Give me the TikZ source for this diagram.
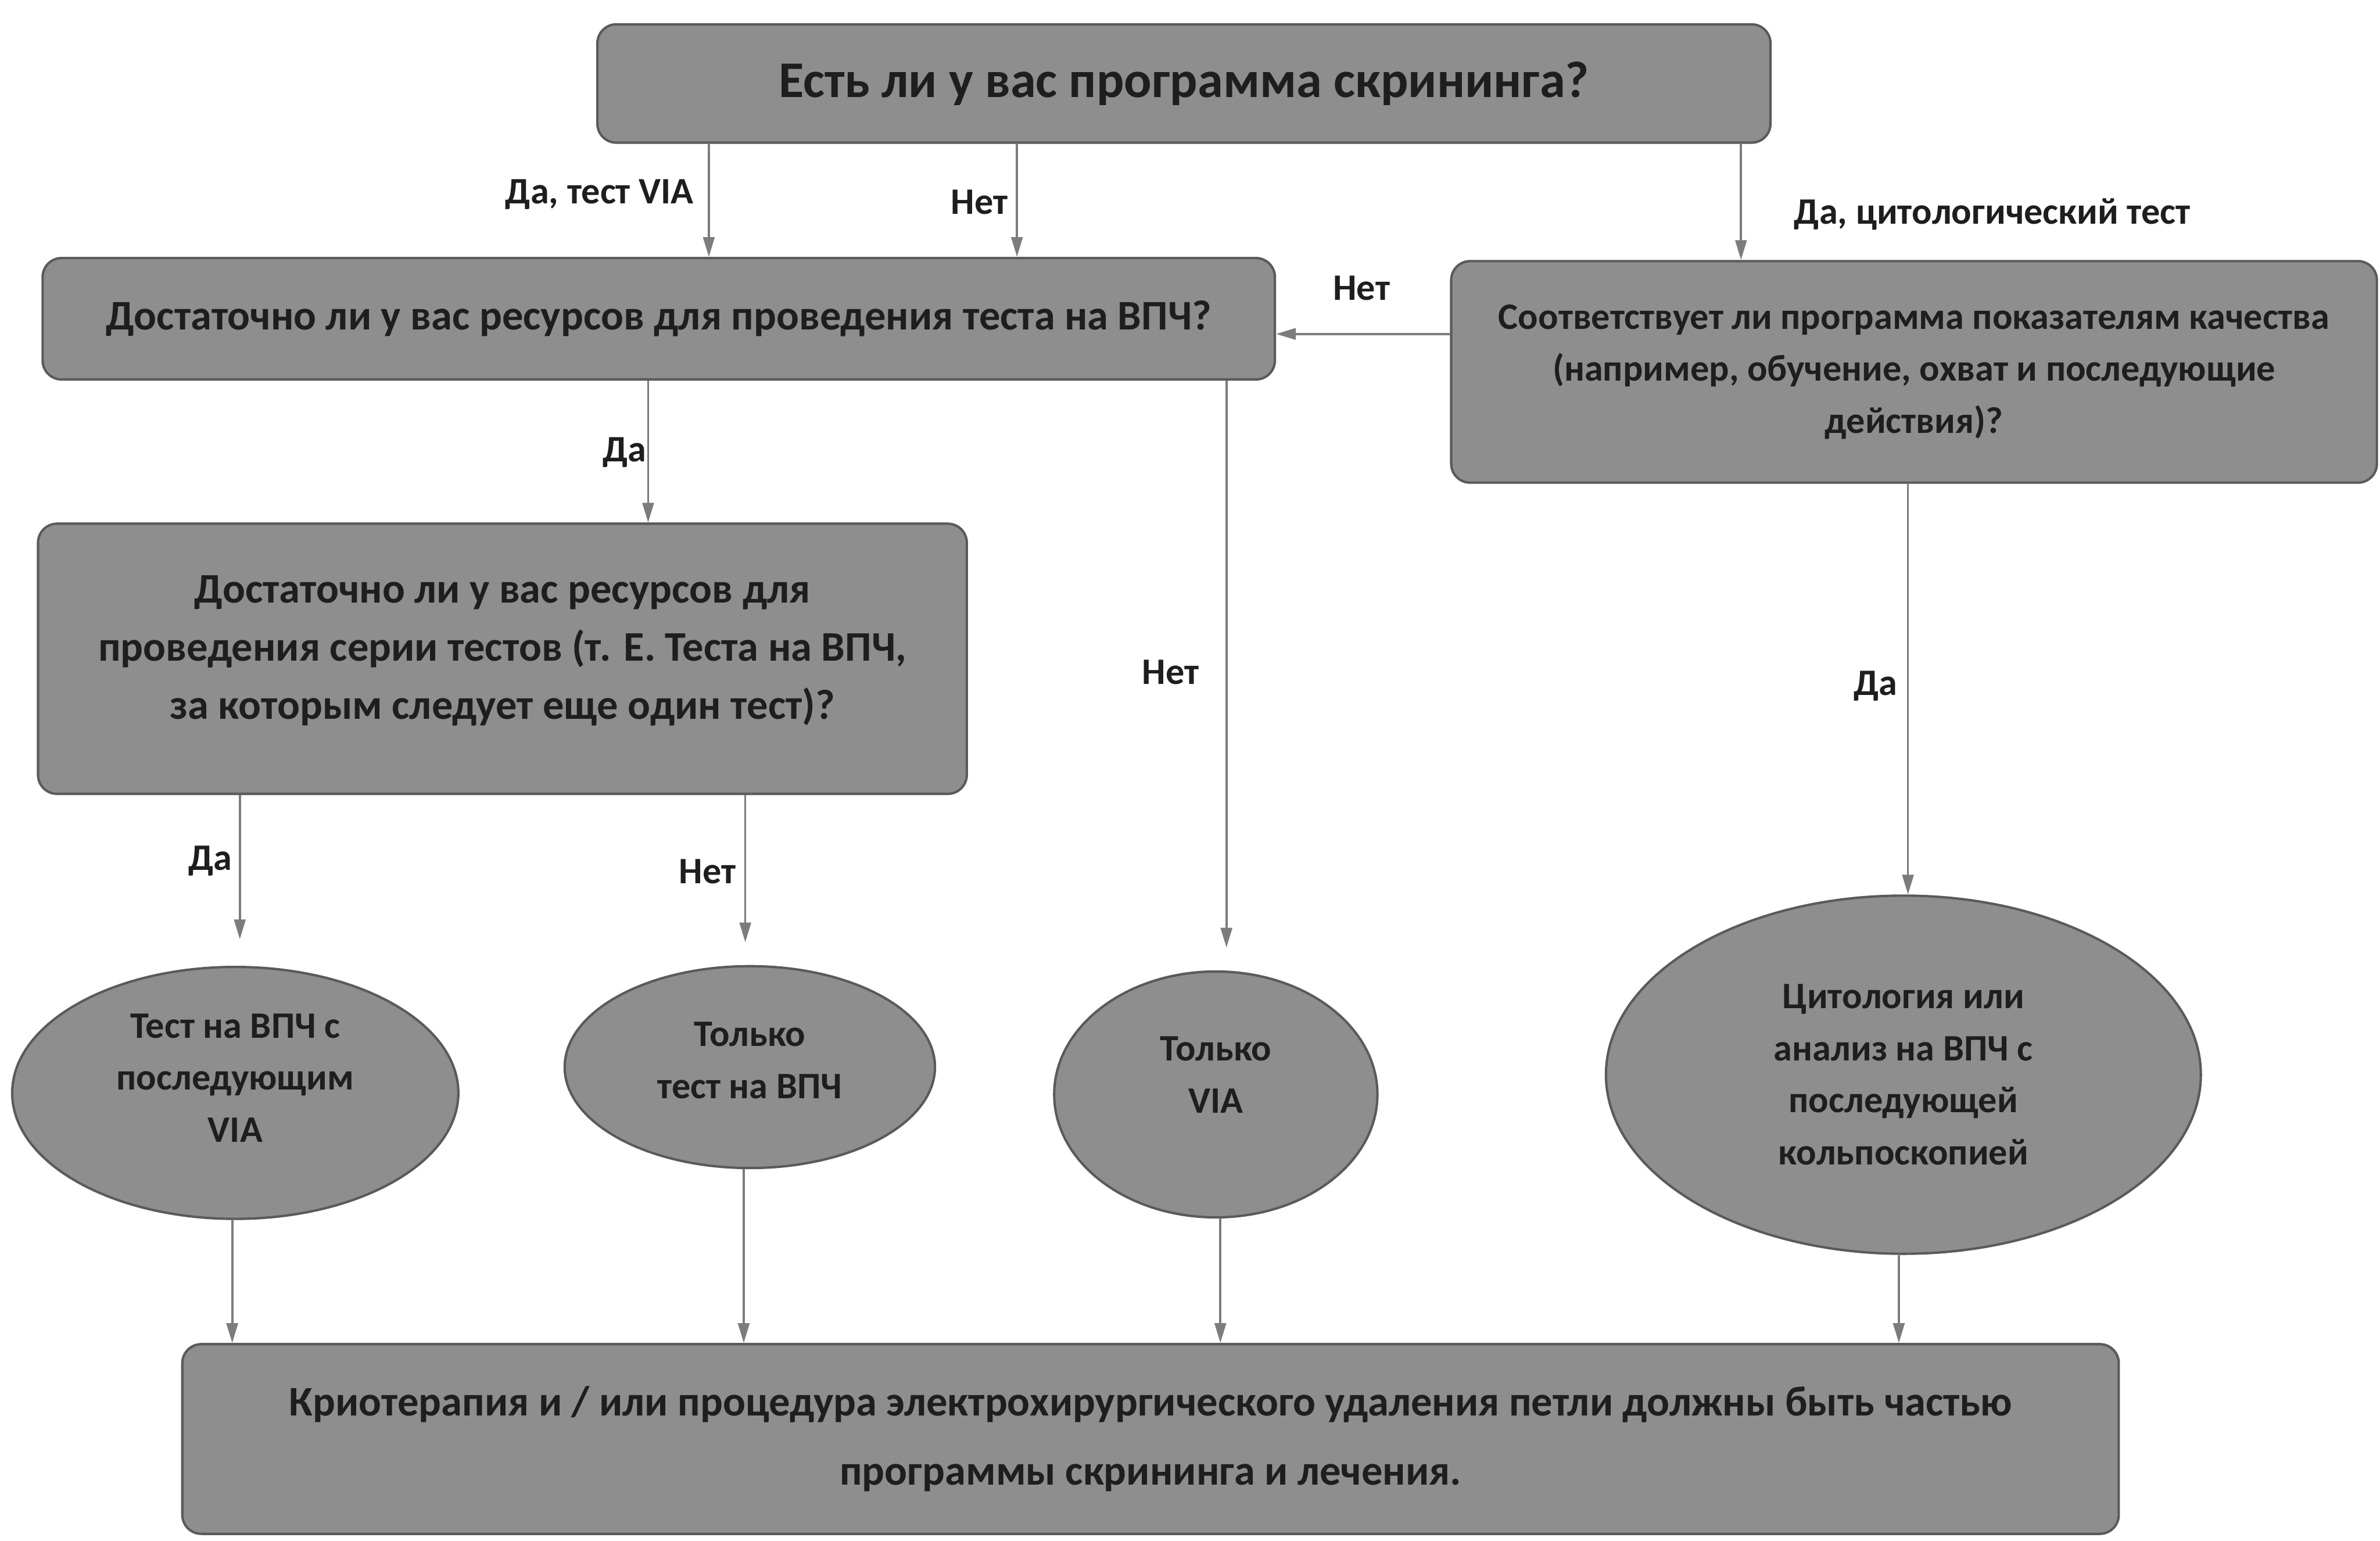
\documentclass[tikz,border=0pt]{standalone}
\usepackage{fontspec}
\setmainfont{Carlito}
\usetikzlibrary{shapes.geometric,arrows.meta}
\definecolor{boxfill}{HTML}{8E8E8E}
\definecolor{boxline}{HTML}{5A5A5A}
\definecolor{arrowgray}{HTML}{7C7C7C}
\definecolor{ink}{HTML}{1E1E1E}
\tikzset{
  qbox/.style={draw=boxline, fill=boxfill, line width=0.9pt, rounded corners=0.25cm, align=center, inner sep=0pt, text=ink, font=\bfseries\fontsize{15.8}{19.5}\selectfont},
  oval/.style={ellipse, draw=boxline, fill=boxfill, line width=0.9pt, align=center, inner sep=0pt, text=ink, font=\bfseries\fontsize{14}{19.5}\selectfont},
  arr/.style={draw=arrowgray, line width=0.8pt, -{Triangle[length=0.26cm, width=0.15cm, fill=arrowgray]}},
  lab/.style={text=ink, inner sep=1pt, font=\bfseries\fontsize{14}{16}\selectfont}
}
\begin{document}
\begin{tikzpicture}[x=0.02cm, y=-0.02cm]
\useasboundingbox (0,0) rectangle (1568,1015);
% questions
\node[qbox, minimum width=15.46cm, minimum height=1.56cm, font=\bfseries\fontsize{19.3}{22}\selectfont] (start) at (780,55) {Есть ли у вас программа скрининга?};
\node[qbox, minimum width=16.24cm, minimum height=1.6cm] (hpv) at (434,210) {Достаточно ли у вас ресурсов для проведения теста на ВПЧ?};
\node[qbox, minimum width=12.2cm, minimum height=2.92cm, font=\bfseries\fontsize{14}{19.5}\selectfont] (quality) at (1261,245) {Соответствует ли программа показателям качества\\(например, обучение, охват и последующие\\действия)?};
\node[qbox, minimum width=12.24cm, minimum height=3.56cm, text depth=0.3cm, font=\bfseries\fontsize{15.8}{21.8}\selectfont] (series) at (331,434) {Достаточно ли у вас ресурсов для\\проведения серии тестов (т. Е. Теста на ВПЧ,\\за которым следует еще один тест)?};
% outcomes
\node[oval, minimum width=5.88cm, minimum height=3.32cm, text depth=0.4cm] (hpvvia) at (155,720) {Тест на ВПЧ с\\последующим\\VIA};
\node[oval, minimum width=4.88cm, minimum height=2.66cm, text depth=0.18cm] (hpvonly) at (494,703) {Только\\тест на ВПЧ};
\node[oval, minimum width=4.26cm, minimum height=3.24cm, text depth=0.52cm] (viaonly) at (801,721) {Только\\VIA};
\node[oval, minimum width=7.84cm, minimum height=4.72cm] (cyto) at (1254,708) {Цитология или\\анализ на ВПЧ с\\последующей\\кольпоскопией};
\node[qbox, minimum width=25.52cm, minimum height=2.5cm, font=\bfseries\fontsize{15.8}{26}\selectfont] (treat) at (758,948) {Криотерапия и / или процедура электрохирургического удаления петли должны быть частью\\программы скрининга и лечения.};
% connectors
\draw[arr] (start.south -| 467,0) -- (hpv.north -| 467,0);
\draw[arr] (start.south -| 670,0) -- (hpv.north -| 670,0);
\draw[arr] (start.south -| 1147,0) -- (quality.north -| 1147,0);
\draw[arr] (quality.west |- 0,220) -- (hpv.east |- 0,220);
\draw[arr] (hpv.south -| 427,0) -- (series.north -| 427,0);
\draw[arr] (hpv.south -| 808,0) -- ([yshift=0.3cm]viaonly.north -| 808,0);
\draw[arr] (quality.south -| 1257,0) -- (cyto.north -| 1257,0);
\draw[arr] (series.south -| 158,0) -- ([yshift=0.35cm]hpvvia.north -| 158,0);
\draw[arr] (series.south -| 491,0) -- ([yshift=0.3cm]hpvonly.north -| 491,0);
\draw[arr] (hpvvia.south -| 153,0) -- (treat.north -| 153,0);
\draw[arr] (hpvonly.south -| 490,0) -- (treat.north -| 490,0);
\draw[arr] (viaonly.south -| 804,0) -- (treat.north -| 804,0);
\draw[arr] (cyto.south -| 1251,0) -- (treat.north -| 1251,0);
% labels
\node[lab, anchor=east] (l1) at (459,128) {Да, тест VIA};
\node[lab, anchor=east] (l2) at (666,133) {Нет};
\node[lab, anchor=west] (l3) at (1180,141) {Да, цитологический тест};
\node[lab] (l4) at (897,190) {Нет};
\node[lab, anchor=east] (l5) at (428,298) {Да};
\node[lab, anchor=east] (l6) at (792,443) {Нет};
\node[lab, anchor=east] (l7) at (1252,452) {Да};
\node[lab, anchor=east] (l8) at (155,567) {Да};
\node[lab, anchor=east] (l9) at (487,574) {Нет};
\end{tikzpicture}
\end{document}
